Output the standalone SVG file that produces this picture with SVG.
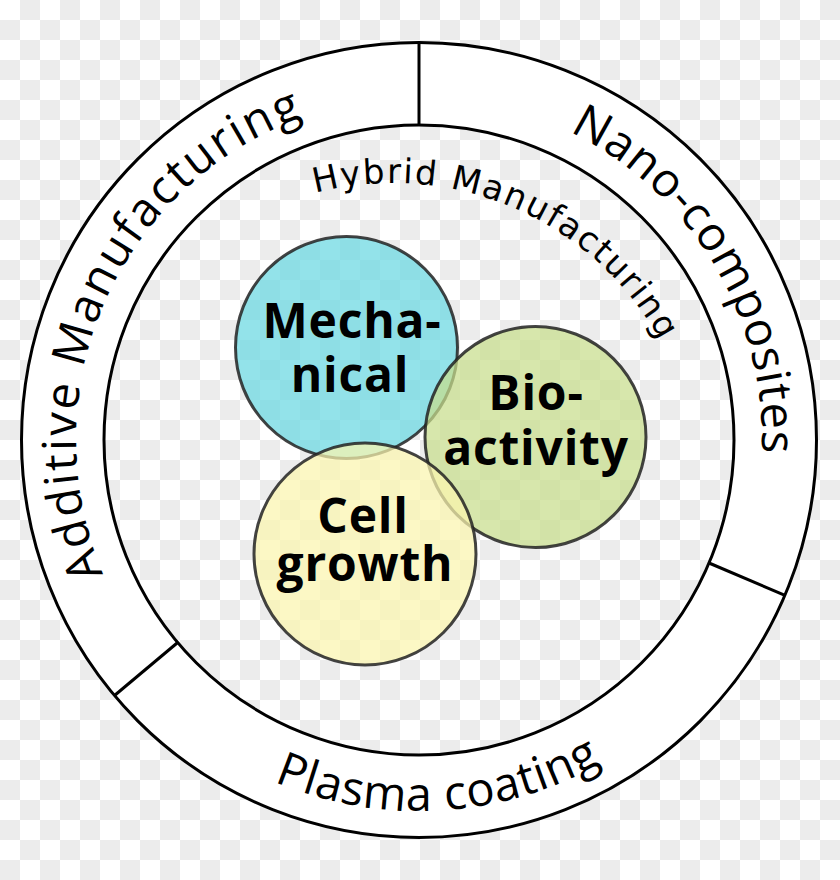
<svg xmlns="http://www.w3.org/2000/svg" xmlns:xlink="http://www.w3.org/1999/xlink" width="840" height="880" viewBox="0 0 840 880">
<defs>
<pattern id="checker" x="0" y="0" width="40" height="40" patternUnits="userSpaceOnUse">
<rect x="0" y="0" width="40" height="40" fill="#ffffff"/>
<rect x="20" y="0" width="20" height="20" fill="#ececec"/>
<rect x="0" y="20" width="20" height="20" fill="#ececec"/>
</pattern>
<path id="pAdd" d="M 103.3 574 A 343 343 0 0 1 330.2 108.7"/>
<path id="pNano" d="M 569.4 131.7 A 343 343 0 0 1 756.8 499.6"/>
<path id="pPlasma" d="M 274 781.5 A 371 371 0 0 0 657.5 724.2"/>
<path id="pHybrid" d="M 315.1 193.1 A 305 305 0 0 1 679.6 383.7"/>
</defs>
<style>
.ring{fill:none;stroke:#000;stroke-width:3}
.div{stroke:#000;stroke-width:3}
.outer{font-family:"Open Sans","Noto Sans",sans-serif;font-size:47px;fill:#000}
.hyb{font-family:"DejaVu Sans",sans-serif;font-size:34px;fill:#000;letter-spacing:1.8px}
.blob{fill-opacity:0.72;stroke:#222;stroke-width:3;stroke-opacity:0.85}
.lbl{font-family:"Open Sans","Noto Sans",sans-serif;font-weight:700;font-size:48px;fill:#000;text-anchor:middle;letter-spacing:0.8px}
</style>
<rect x="0" y="0" width="840" height="880" fill="url(#checker)"/>
<g id="ring">
<path d="M 21.5 440 A 397.5 397.5 0 1 0 816.5 440 A 397.5 397.5 0 1 0 21.5 440 Z M 104 440 A 315 315 0 1 0 734 440 A 315 315 0 1 0 104 440 Z" fill="#ffffff" fill-rule="evenodd"/>
<circle class="ring" cx="419" cy="440" r="397.5"/>
<circle class="ring" cx="419" cy="440" r="315"/>
</g>
<g id="connectors">
<line class="div" x1="419" y1="42.5" x2="419" y2="125"/>
<line class="div" x1="709" y1="563" x2="785" y2="595.3"/>
<line class="div" x1="177.7" y1="642.5" x2="114.5" y2="695.5"/>
</g>
<g id="additive-manufacturing">
<text class="outer" letter-spacing="2.2"><textPath xlink:href="#pAdd" href="#pAdd">Additive Manufacturing</textPath></text>
</g>
<g id="nano-composites">
<text class="outer" letter-spacing="0.8"><textPath xlink:href="#pNano" href="#pNano">Nano-composites</textPath></text>
</g>
<g id="plasma-coating">
<text class="outer" letter-spacing="0.7"><textPath xlink:href="#pPlasma" href="#pPlasma">Plasma coating</textPath></text>
</g>
<g id="hybrid-manufacturing">
<text class="hyb"><textPath xlink:href="#pHybrid" href="#pHybrid">Hybrid Manufacturing</textPath></text>
</g>
<g id="mechanical">
<circle class="blob" cx="346.5" cy="347.5" r="111" fill="#6ad8e2"/>
</g>
<g id="bioactivity">
<circle class="blob" cx="535.5" cy="437" r="110.5" fill="#c8de8c"/>
</g>
<g id="cellgrowth">
<circle class="blob" cx="365" cy="554" r="111" fill="#fbf5ae"/>
</g>
<g id="labels">
<text class="lbl" x="352" y="338">Mecha-</text>
<text class="lbl" x="350" y="392">nical</text>
<text class="lbl" x="536" y="410">Bio-</text>
<text class="lbl" x="536" y="465">activity</text>
<text class="lbl" x="363" y="533">Cell</text>
<text class="lbl" x="365" y="581">growth</text>
</g>
</svg>
